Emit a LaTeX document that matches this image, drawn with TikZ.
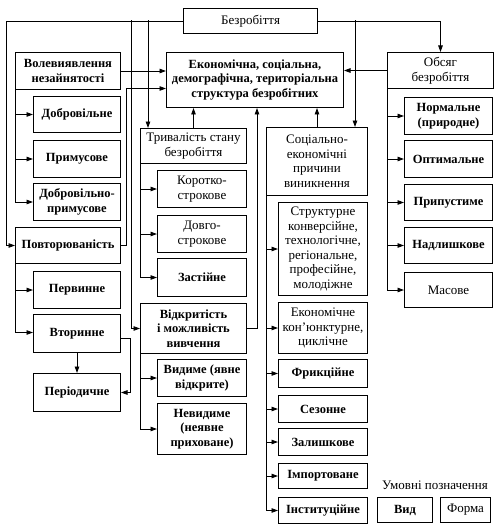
\documentclass[tikz,border=0pt]{standalone}
\usepackage{fontspec}
\setmainfont{Liberation Serif}
\usetikzlibrary{arrows.meta,calc}
\begin{document}
\begin{tikzpicture}[x=1pt,y=-1pt,
  bx/.style={draw, line width=1pt, align=center, inner sep=0pt, anchor=north west,
    font=\fontsize{13}{14.5}\selectfont},
  bd/.style={bx, font=\fontsize{12.5}{14.5}\selectfont\bfseries},
  ln/.style={line width=0.9pt},
  arr/.style={line width=0.9pt, -{Triangle[length=6.5pt,width=4.5pt]}}]
\useasboundingbox (0,0) rectangle (498,532);
% top
\node[bx, minimum width=134pt, minimum height=25pt] (bez) at (183,8) {Безробіття};
\node[bd, minimum width=177pt, minimum height=55pt] (econ) at (166,52) {Економічна, соціальна,\\демографічна, територіальна\\структура безробітних};
% left column
\node[bd, minimum width=105pt, minimum height=37pt] (vol) at (15,52) {Волевиявлення\\незайнятості};
\node[bd, minimum width=87pt, minimum height=36pt] (dobr) at (33,96) {Добровільне};
\node[bd, minimum width=87pt, minimum height=37pt] (prym) at (33,140) {Примусове};
\node[bd, minimum width=87pt, minimum height=37pt] (dprym) at (33,183) {Добровільно-\\примусове};
\node[bd, minimum width=105pt, minimum height=36pt] (povt) at (15,227) {Повторюваність};
\node[bd, minimum width=87pt, minimum height=37pt] (perv) at (33,271) {Первинне};
\node[bd, minimum width=87pt, minimum height=38pt] (vtor) at (33,314) {Вторинне};
\node[bd, minimum width=87pt, minimum height=38pt] (period) at (33,373) {Періодичне};
% middle column
\node[bx, minimum width=106pt, minimum height=35pt] (tryv) at (140,128) {Тривалість стану\\безробіття};
\node[bx, minimum width=89pt, minimum height=37pt] (korot) at (157,170) {Коротко-\\строкове};
\node[bx, minimum width=89pt, minimum height=37pt] (dovh) at (157,215) {Довго-\\строкове};
\node[bd, minimum width=89pt, minimum height=38pt] (zast) at (157,258) {Застійне};
\node[bd, minimum width=106pt, minimum height=50pt] (vidkr) at (140,303) {Відкритість\\і можливість\\вивчення};
\node[bd, minimum width=89pt, minimum height=37pt] (vyd) at (157,359) {Видиме (явне\\відкрите)};
\node[bd, minimum width=89pt, minimum height=51pt] (nevyd) at (157,403) {Невидиме\\(неявне\\приховане)};
% socio-economic column
\node[bx, minimum width=101pt, minimum height=68pt] (soc) at (266,127) {Соціально-\\економічні\\причини\\виникнення};
\node[bx, minimum width=89pt, minimum height=93pt] (strukt) at (278,202) {Структурне\\конверсійне,\\технологічне,\\регіональне,\\професійне,\\молодіжне};
\node[bx, minimum width=89pt, minimum height=51pt] (ekon) at (278,302) {Економічне\\кон'юнктурне,\\циклічне};
\node[bd, minimum width=89pt, minimum height=28pt] (fryk) at (278,359) {Фрикційне};
\node[bd, minimum width=89pt, minimum height=27pt] (sez) at (278,395) {Сезонне};
\node[bd, minimum width=89pt, minimum height=27pt] (zal) at (278,428) {Залишкове};
\node[bd, minimum width=89pt, minimum height=25pt] (imp) at (278,463) {Імпортоване};
\node[bd, minimum width=89pt, minimum height=26pt] (inst) at (278,497) {Інституційне};
% right column
\node[bx, minimum width=106pt, minimum height=36pt] (obs) at (387,52) {Обсяг\\безробіття};
\node[bd, minimum width=88pt, minimum height=37pt] (norm) at (404,97) {Нормальне\\(природне)};
\node[bd, minimum width=88pt, minimum height=37pt] (opt) at (404,140) {Оптимальне};
\node[bd, minimum width=88pt, minimum height=36pt] (prup) at (404,184) {Припустиме};
\node[bd, minimum width=88pt, minimum height=36pt] (nadl) at (404,227) {Надлишкове};
\node[bx, minimum width=88pt, minimum height=35pt] (mas) at (404,272) {Масове};
% legend
\node[font=\fontsize{13}{14.5}\selectfont, inner sep=0pt] (leg) at (435,485) {Умовні позначення};
\node[bd, minimum width=55pt, minimum height=25pt] (lvyd) at (377,497) {Вид};
\node[bx, minimum width=50pt, minimum height=25pt] (lform) at (440,497) {Форма};
% junctions on the top line
\coordinate (jA) at (131,20.5);
\coordinate (jB) at (148,20.5);
\coordinate (jC) at (355,20.5);
% connectors from Безробіття
\draw[arr] (bez.west) -| ([xshift=-9pt]povt.west) -- (povt.west);
\draw[arr] (jA) |- (vidkr.west);
\draw[arr] (jB) -- (jB |- tryv.north);
\draw[arr] (bez.east) -| (obs.north);
\draw[arr] (jC) -- (jC |- soc.north);
% into the structure box
\draw[arr] ([yshift=9pt]econ.west -| vol.east) -- ([yshift=9pt]econ.west);
\coordinate (pv) at ([xshift=5pt]povt.east);
\draw[arr] (povt.east) -- (pv) |- ([yshift=-8.5pt]econ.west);
\draw[arr] (tryv.north) -- (tryv.north |- econ.south);
\coordinate (vk) at ([xshift=10pt]vidkr.east);
\draw[arr] (vidkr.east) -- (vk) -- (vk |- econ.south);
\draw[arr] (soc.north) -- (soc.north |- econ.south);
\draw[arr] (obs.west) -- (obs.west -| econ.east);
% left column trees
\draw[ln] (vol.south west) -- (vol.south west |- dprym.west);
\foreach \n in {dobr,prym,dprym} \draw[arr] (vol.south west |- \n.west) -- (\n.west);
\draw[ln] (povt.south west) -- ([yshift=1pt]povt.south west |- vtor.west);
\foreach \n in {perv} \draw[arr] (povt.south west |- \n.west) -- (\n.west);
\draw[arr] ([yshift=1pt]povt.south west |- vtor.west) -- ([yshift=1pt]vtor.west);
\draw[arr] (vtor.south) -- (vtor.south |- period.north);
\coordinate (vt) at ([xshift=9pt,yshift=-5pt]vtor.east);
\draw[arr] ([yshift=-5pt]vtor.east) -- (vt) |- (period.east);
% middle trees
\draw[ln] (tryv.south west) -- (tryv.south west |- zast.west);
\foreach \n in {korot,dovh,zast} \draw[arr] (tryv.south west |- \n.west) -- (\n.west);
\draw[ln] (vidkr.south west) -- (vidkr.south west |- nevyd.west);
\foreach \n in {vyd,nevyd} \draw[arr] (vidkr.south west |- \n.west) -- (\n.west);
\draw[ln] (soc.south west) -- (soc.south west |- inst.west);
\foreach \n in {strukt,ekon,fryk,sez,zal,imp,inst} \draw[arr] (soc.south west |- \n.west) -- (\n.west);
\draw[ln] (obs.south west) -- (obs.south west |- mas.west);
\foreach \n in {norm,opt,prup,nadl,mas} \draw[arr] (obs.south west |- \n.west) -- (\n.west);
\end{tikzpicture}
\end{document}
